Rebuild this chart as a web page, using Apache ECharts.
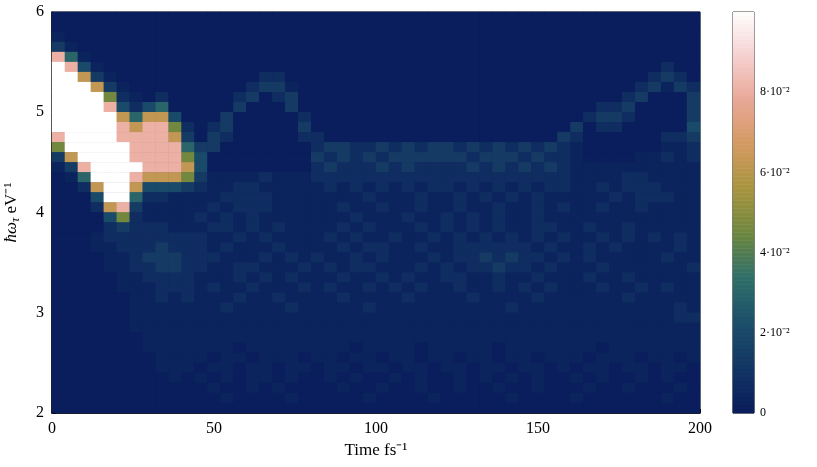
<!DOCTYPE html>
<html>
<head>
<meta charset="utf-8">
<script src="https://cdn.jsdelivr.net/npm/echarts@6/dist/echarts.min.js"></script>
<style>html,body{margin:0;padding:0;background:#fff}#main{width:817px;height:467px}</style>
</head>
<body>
<div id="main"></div>
<script>
// time bins (fs), 4 fs wide, 50 columns
const timeBins = [];
for (let i = 0; i < 50; i++) timeBins.push(4 * i + 2);
// energy bins (eV), 0.1 eV wide, listed from top (6.0) to bottom (2.0)
const energyBins = [];
for (let i = 0; i < 40; i++) energyBins.push(+(5.95 - 0.1 * i).toFixed(2));

// intensity level (0-9) -> value
const levelValues = [0, 0.003, 0.007, 0.013, 0.02, 0.03, 0.045, 0.062, 0.08, 0.1];

// intensity levels, one row per energy bin (top to bottom)
const levelRows = [
  '0000000000' + '0000000000' + '0000000000' + '0000000000' + '0000000000',
  '0000000000' + '0000000000' + '0000000000' + '0000000000' + '0000000000',
  '1000000000' + '0000000000' + '0000000000' + '0000000000' + '0000000000',
  '3100000000' + '0000000000' + '0000000000' + '0000000000' + '0000000000',
  '8510000000' + '0000000000' + '0000000000' + '0000000000' + '0000000000',
  '9841000000' + '0000000000' + '0000000000' + '0000000000' + '0000000200',
  '9973100000' + '0000002200' + '0000000000' + '0000000000' + '0000002320',
  '9997310000' + '0000023310' + '0000000000' + '0000000000' + '0000023132',
  '9999621020' + '0000230230' + '0000000000' + '0000000000' + '0000230003',
  '9999842450' + '0000300030' + '0000000000' + '0000000000' + '0022300003',
  '9999975774' + '0003000002' + '0000000000' + '0000000000' + '0233200003',
  '9999987886' + '2023000003' + '0000000000' + '0000000000' + '3022000004',
  '8999988887' + '3032000002' + '2000000000' + '0000000003' + '2000000223',
  '6999998888' + '5330000000' + '2332232323' + '3232323232' + '1000000112',
  '3799998888' + '6400000000' + '3232323333' + '3323332322' + '1000011212',
  '1389999888' + '7400000000' + '2322232322' + '2232323232' + '1111111111',
  '0159998777' + '6311112111' + '2222222222' + '2222222222' + '1111221111',
  '0027997444' + '3211221111' + '1212121212' + '2121212122' + '1121222111',
  '0004995221' + '1112222111' + '1111211121' + '1212121211' + '1112122211',
  '0002783111' + '1121222111' + '1121121121' + '1211211212' + '1121121111',
  '0000462111' + '1212121111' + '1112111211' + '2121211211' + '1111111111',
  '0000232221' + '1122121211' + '1121211121' + '2121211221' + '1211211111',
  '0001222222' + '2211212111' + '1212112112' + '1212121212' + '1121212121',
  '0001122232' + '2212111211' + '1121221121' + '1222222121' + '1212111121',
  '0000112333' + '2221112121' + '2112121112' + '1223232212' + '1211111211',
  '0000112233' + '2211221112' + '1212211121' + '2122322121' + '1121111112',
  '0000011222' + '2111212121' + '1121121211' + '2211211211' + '1211211111',
  '0000011122' + '2121121112' + '1211212121' + '1211212121' + '1121121211',
  '0000001121' + '2111211211' + '1121111211' + '1121111211' + '1111211111',
  '0000001111' + '1112111121' + '1111211111' + '1111121111' + '1111111121',
  '0000001111' + '1111111111' + '1111111111' + '1111111111' + '1111111122',
  '0000001111' + '1111111111' + '1111111111' + '1111111111' + '1111111111',
  '0000000111' + '1111111111' + '1111111111' + '1111111111' + '1111111111',
  '0000000111' + '1111011111' + '1110111101' + '1111011111' + '1101111111',
  '0000000011' + '1101101110' + '1101101101' + '1011011011' + '1011101101',
  '0000000011' + '1011011011' + '0110110110' + '1101101101' + '0110110110',
  '0000000001' + '0101011010' + '0101001010' + '0101010100' + '1010010100',
  '0000000000' + '0010010100' + '0010010010' + '0100100100' + '0100100010',
  '0000000000' + '0001000010' + '0000100001' + '0000010000' + '1000000100',
  '0000000000' + '0000000000' + '0000000000' + '0000000000' + '0000000000'
];

const colorStops = ['#0a1d5c', '#133764', '#1c4f6a', '#2f6f68', '#6e873e', '#a8943e', '#d39a62', '#e9a898', '#f6d2d2', '#ffffff'];
const barTicks = ['0', '2·10⁻²', '4·10⁻²', '6·10⁻²', '8·10⁻²'];

const heat = [];
levelRows.forEach((row, r) => {
  for (let c = 0; c < timeBins.length; c++) {
    const lv = +(row[c] || 0);
    heat.push([c, energyBins.length - 1 - r, levelValues[lv]]);
  }
});
const yCats = energyBins.slice().reverse();

const barLevels = [];
for (let i = 0; i < 100; i++) barLevels.push(i * 0.001);
const barData = barLevels.map((v, i) => [0, i, v]);

const font = 'Liberation Serif';
const myChart = echarts.init(document.getElementById('main'));
const option = {
  backgroundColor: '#fff',
  textStyle: { fontFamily: font },
  grid: [
    { left: 52, top: 12, width: 648, height: 401, show: true, borderColor: '#000', borderWidth: 1, backgroundColor: '#0a1d5c', containLabel: false, outerBoundsMode: 'none' },
    { left: 733, top: 12, width: 21, height: 401, show: true, borderColor: '#000', borderWidth: 1, containLabel: false, outerBoundsMode: 'none' }
  ],
  visualMap: {
    show: false, min: 0, max: 0.1, seriesIndex: [0, 1],
    inRange: { color: colorStops }
  },
  xAxis: [
    { type: 'category', data: timeBins, gridIndex: 0, show: false },
    { type: 'value', gridIndex: 0, min: 0, max: 200, interval: 50, position: 'bottom',
      name: 'Time fs⁻¹', nameLocation: 'middle', nameGap: 28,
      nameTextStyle: { fontFamily: font, fontSize: 17, color: '#000' },
      axisLine: { lineStyle: { color: '#000', width: 1.5 } },
      axisTick: { inside: true, length: 4, lineStyle: { color: '#000' } },
      axisLabel: { fontFamily: font, fontSize: 16, color: '#000' },
      splitLine: { show: false } },
    { type: 'category', data: ['c'], gridIndex: 1, show: false }
  ],
  yAxis: [
    { type: 'category', data: yCats, gridIndex: 0, show: false, position: 'right' },
    { type: 'value', gridIndex: 0, min: 2, max: 6, interval: 1, position: 'left',
      name: '{i|ħω}{s|τ}{a| eV⁻¹}', nameLocation: 'middle', nameGap: 30,
      nameTextStyle: { color: '#000', rich: {
        i: { fontFamily: font, fontSize: 17, fontStyle: 'italic' },
        a: { fontFamily: font, fontSize: 17 },
        s: { fontFamily: font, fontSize: 12, fontStyle: 'italic', verticalAlign: 'bottom', padding: [8, 0, 0, 0] } } },
      axisLine: { show: true, lineStyle: { color: '#000', width: 1.5 } },
      axisTick: { inside: true, length: 4, lineStyle: { color: '#000' } },
      axisLabel: { fontFamily: font, fontSize: 16, color: '#000' },
      splitLine: { show: false } },
    { type: 'category', data: barLevels, gridIndex: 1, show: false, position: 'left' },
    { type: 'value', gridIndex: 1, min: 0, max: 0.1, interval: 0.02, position: 'right',
      axisLine: { show: false },
      axisTick: { inside: true, length: 4, lineStyle: { color: '#000' } },
      axisLabel: { fontFamily: font, fontSize: 12, color: '#000', margin: 6,
        formatter: v => { const i = Math.round(v / 0.02); return barTicks[i] || ''; } },
      splitLine: { show: false } }
  ],
  series: [
    { type: 'heatmap', xAxisIndex: 0, yAxisIndex: 0, data: heat, progressive: 0, itemStyle: { borderWidth: 0 } },
    { type: 'heatmap', xAxisIndex: 2, yAxisIndex: 2, data: barData, progressive: 0 }
  ]
};
myChart.setOption(option);
</script>
</body>
</html>
